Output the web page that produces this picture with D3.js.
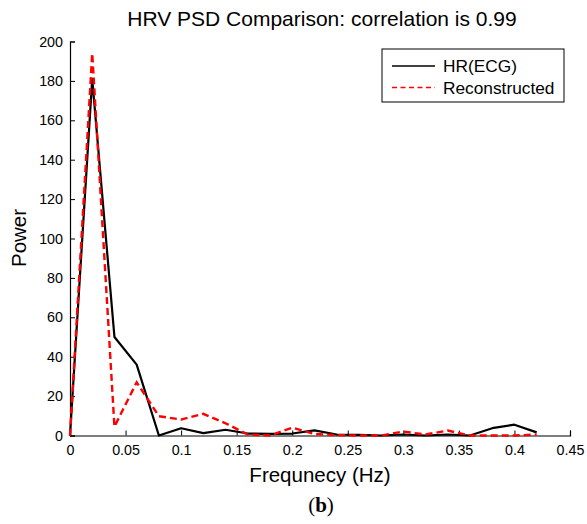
<!DOCTYPE html>
<html><head><meta charset="utf-8">
<script src="https://cdn.jsdelivr.net/npm/d3@7"></script>
<style>body{margin:0;background:#fff;} svg{display:block;font-family:"Liberation Sans",Arial,sans-serif;}</style>
</head><body>
<script>
const freq = [0,0.02,0.04,0.06,0.08,0.10,0.12,0.14,0.16,0.18,0.20,0.22,0.24,0.26,0.28,0.30,0.32,0.34,0.36,0.38,0.40,0.42];
const hrECG = [0,181,50,36,0,3.7,1.2,2.9,1,0.8,1,2.6,0.5,0.3,0,0.5,0,0.5,0,3.7,5.5,1.6];
const reconstructed = [0,194,4.5,27,9.8,8.1,11,6.2,0.5,0,4,0.8,0.2,0,0,2,0.5,2.5,0,0,0,0.5];
const xTicks = [0,0.05,0.1,0.15,0.2,0.25,0.3,0.35,0.4,0.45];
const yTicks = [0,20,40,60,80,100,120,140,160,180,200];
const seriesNames = ["HR(ECG)","Reconstructed"];

const W=587,H=524;
const svg=d3.select("body").append("svg").attr("width",W).attr("height",H);
const x=d3.scaleLinear().domain([0,0.45]).range([70,570]);
const y=d3.scaleLinear().domain([0,200]).range([435.5,41.5]);

const xa=svg.append("g").attr("transform","translate(0,435.5)")
  .call(d3.axisBottom(x).tickValues(xTicks).tickSize(-5).tickPadding(9).tickFormat(d=>d3.format("")(+d.toFixed(2))));
const ya=svg.append("g").attr("transform","translate(70,0)")
  .call(d3.axisLeft(y).tickValues(yTicks).tickSize(-5).tickPadding(7));
[xa,ya].forEach(g=>{
  g.selectAll("path").attr("stroke","#000").attr("stroke-width",1.2);
  g.selectAll("line").attr("stroke","#000").attr("stroke-width",1);
  g.selectAll("text").attr("font-size",14.3).attr("fill","#000").attr("font-family","Liberation Sans, Arial, sans-serif");
});

const line=d3.line().x((d,i)=>x(freq[i])).y(d=>y(d));
svg.append("path").datum(hrECG).attr("d",line).attr("fill","none").attr("stroke","#000").attr("stroke-width",2.2).attr("stroke-linejoin","round");
svg.append("path").datum(reconstructed).attr("d",line).attr("fill","none").attr("stroke","#ff0000").attr("stroke-width",2.4).attr("stroke-dasharray","7,4");

svg.append("text").attr("x",322).attr("y",26).attr("text-anchor","middle").attr("font-size",21).text("HRV PSD Comparison: correlation is 0.99");
svg.append("text").attr("x",320).attr("y",482).attr("text-anchor","middle").attr("font-size",20.5).text("Frequnecy (Hz)");
svg.append("text").attr("transform","translate(26,238) rotate(-90)").attr("text-anchor","middle").attr("font-size",20.5).text("Power");
const b=svg.append("text").attr("x",321).attr("y",512).attr("text-anchor","middle").attr("font-size",21).attr("font-family","Liberation Serif, Times New Roman, serif");
b.append("tspan").text("(");b.append("tspan").attr("font-weight","bold").text("b");b.append("tspan").text(")");

const lg=svg.append("g");
lg.append("rect").attr("x",382).attr("y",49).attr("width",182).attr("height",53).attr("fill","#fff").attr("stroke","#000").attr("stroke-width",1);
const styles=[{c:"#000",d:null},{c:"#ff0000",d:"5,3.5"}];
seriesNames.forEach((n,i)=>{
  const yy=66+i*21.5;
  lg.append("line").attr("x1",392).attr("x2",435).attr("y1",yy).attr("y2",yy).attr("stroke",styles[i].c).attr("stroke-width",1.6).attr("stroke-dasharray",styles[i].d);
  lg.append("text").attr("x",443).attr("y",yy+6).attr("font-size",17.3).text(n);
});
</script>
</body></html>
